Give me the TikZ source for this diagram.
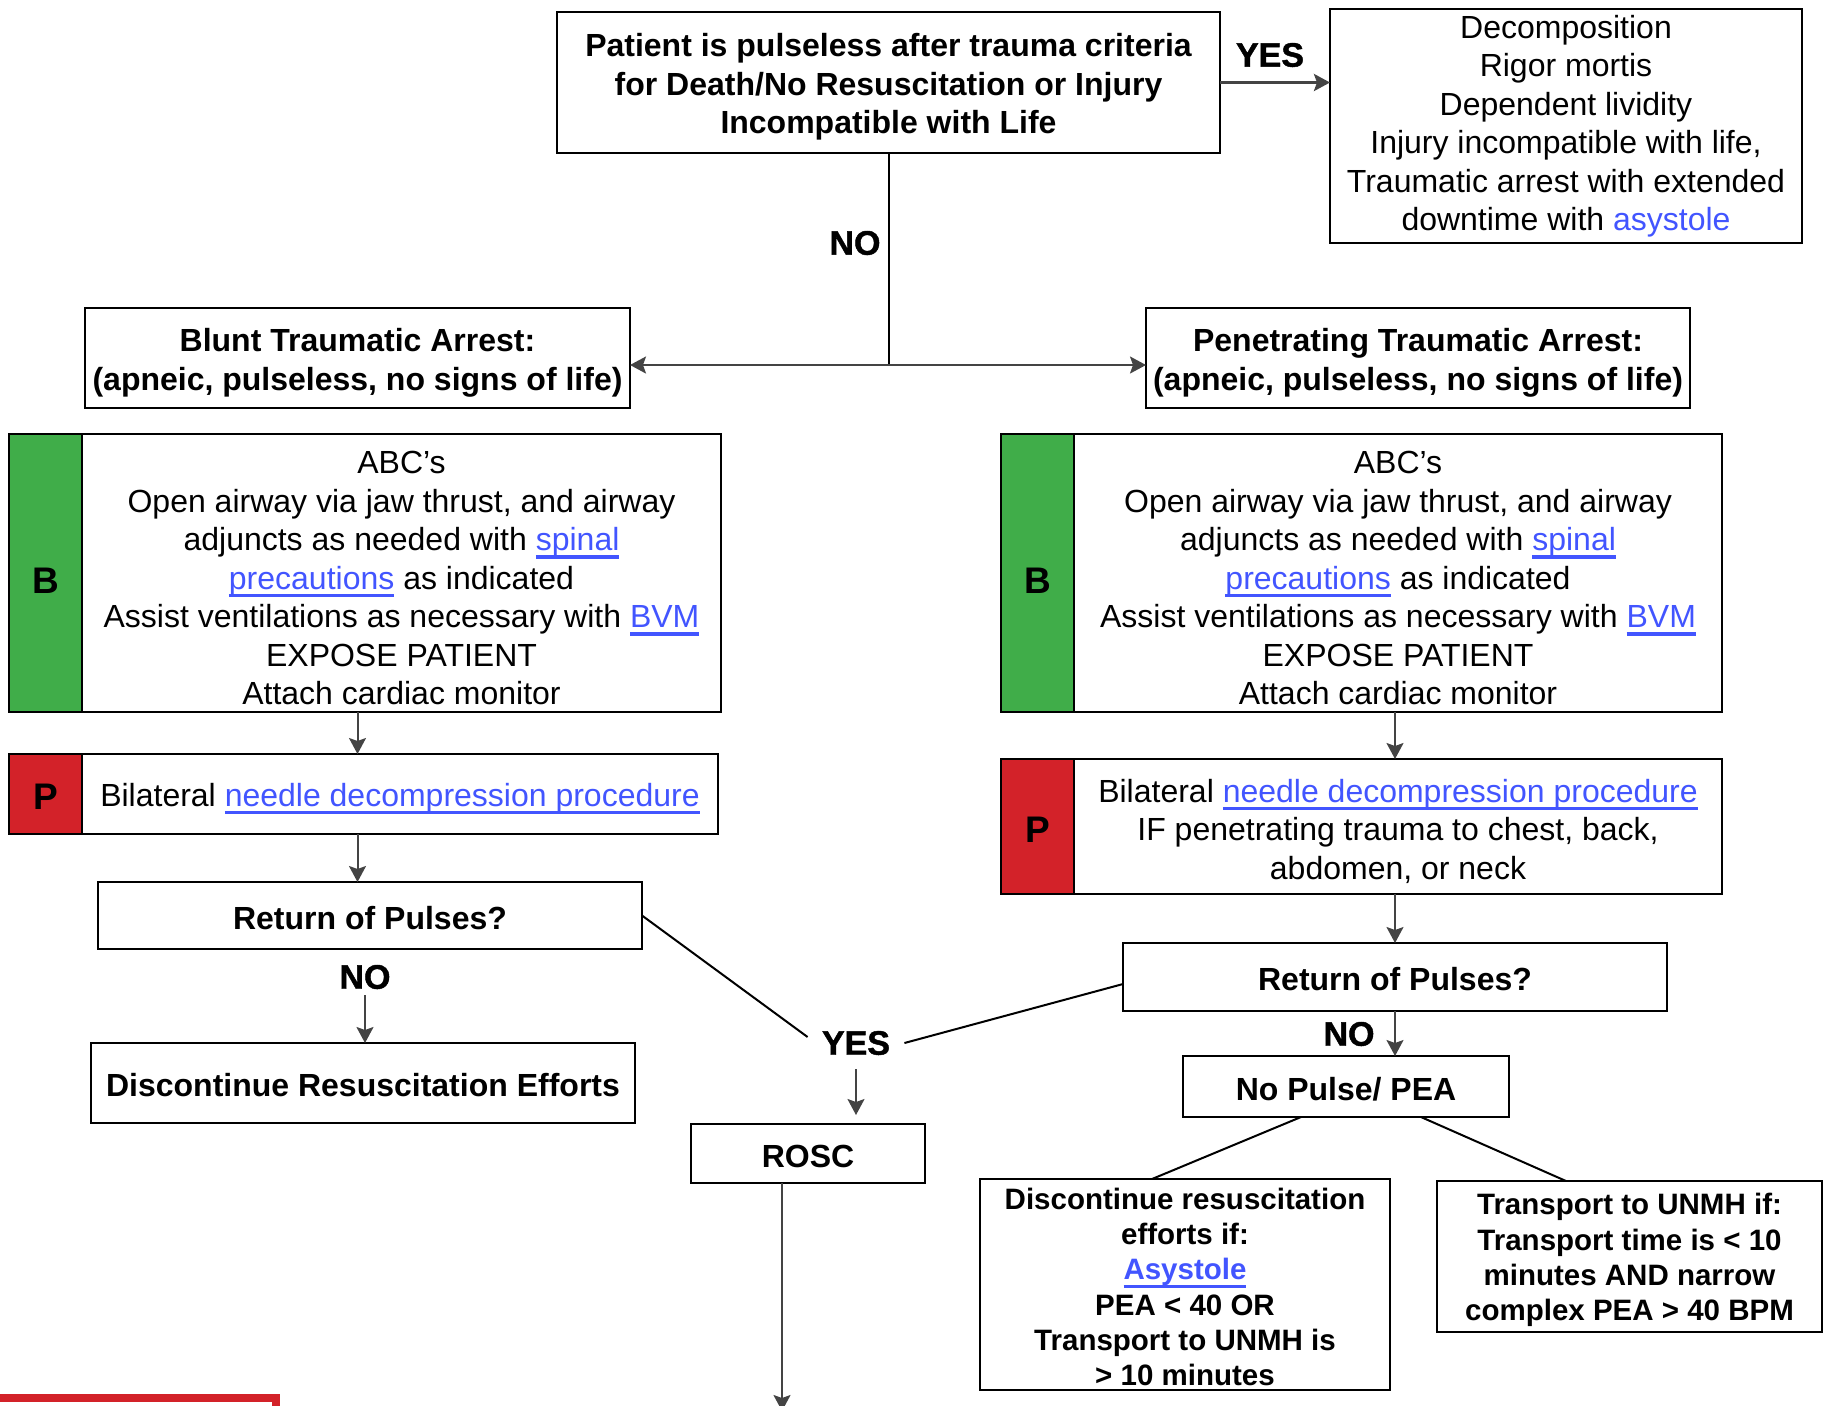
\documentclass[tikz,border=0pt]{standalone}
\usepackage{fontspec}
\setmainfont{Liberation Sans}
\newfontfamily\heavyfont{Liberation Sans Bold}[FakeBold=1.3]
\usetikzlibrary{arrows.meta,positioning}
\definecolor{bgreen}{RGB}{64,173,73}
\definecolor{pred}{RGB}{211,34,41}
\definecolor{linkblue}{RGB}{66,85,255}
\definecolor{arrgray}{RGB}{68,68,68}
\newsavebox{\lnkbox}
\newcommand{\lnk}[1]{\textcolor{linkblue}{\sbox{\lnkbox}{#1}\rlap{\rule[-4pt]{\wd\lnkbox}{1.6pt}}\usebox{\lnkbox}}}

\begin{document}
\begin{tikzpicture}[
  x=0.5pt, y=-0.5pt,
  font=\fontsize{16}{19.25}\selectfont,
  box/.style={draw, line width=1.2pt, outer sep=0pt, inner sep=2pt, align=center},
  low/.style={execute at begin node={\rule{0pt}{#1}}},
  low/.default=14pt,
  hbox/.style={box, low, font=\fontsize{16}{19.25}\selectfont\bfseries},
  tbox/.style={box, low},
  sbox/.style={box, font=\fontsize{14.75}{17.6}\selectfont\bfseries},
  strip/.style={box, font=\fontsize{18.5}{22}\selectfont\bfseries, minimum width=36.5pt},
  lbl/.style={font=\fontsize{17}{20}\selectfont\heavyfont, inner sep=3pt},
  arr/.style={-{Stealth[length=8pt,width=8.5pt,inset=1.5pt]}, draw=arrgray, line width=1pt},
  ln/.style={line width=1pt}
]
\useasboundingbox (0,0) rectangle (1830,1405);

% top of the chart
\node[hbox, low=54.8pt, minimum width=331.5pt, minimum height=70.5pt] (top) at (888.5,82.5) {Patient is pulseless after trauma criteria\\for Death/No Resuscitation or Injury\\Incompatible with Life};
\node[box, minimum width=236pt, minimum height=117pt] (decomp) at (1566,126) {Decomposition\\Rigor mortis\\Dependent lividity\\Injury incompatible with life,\\Traumatic arrest with extended\\downtime with \textcolor{linkblue}{asystole}};
\node[lbl] (yesTop) at (1270,55) {YES};
\node[lbl] (noTop) at (855,243) {NO};
\coordinate (split) at (888.5,365);
\node[hbox, low=36.15pt, minimum width=272.5pt, minimum height=50pt, font=\fontsize{16}{19.85}\selectfont\bfseries] (blunt) at (357.5,358) {Blunt Traumatic Arrest:\\(apneic, pulseless, no signs of life)};
\node[hbox, low=36.15pt, minimum width=272pt, minimum height=50pt, font=\fontsize{16}{19.85}\selectfont\bfseries] (pen) at (1418,358) {Penetrating Traumatic Arrest:\\(apneic, pulseless, no signs of life)};

% blunt branch
\node[strip, low=20.2pt, fill=bgreen, minimum height=139pt] (lBs) at (45.5,573) {B};
\node[tbox, low=131.7pt, right=0pt of lBs, minimum width=319.5pt, minimum height=139pt] (lBt) {ABC’s\\Open airway via jaw thrust, and airway\\adjuncts as needed with \lnk{spinal}\\\lnk{precautions} as indicated\\Assist ventilations as necessary with \lnk{BVM}\\EXPOSE PATIENT\\Attach cardiac monitor};
\node[strip, low=15.6pt, fill=pred, minimum height=40pt] (lPs) at (45.5,794) {P};
\node[tbox, low=16.3pt, right=0pt of lPs, minimum width=318pt, minimum height=40pt] (lPt) {Bilateral \lnk{needle decompression procedure}};
\node[hbox, minimum width=272pt, minimum height=33.5pt] (retL) at (370,915.5) {Return of Pulses?};
\node[lbl] (noL) at (365,977) {NO};
\node[hbox, minimum width=272pt, minimum height=40pt] (discL) at (363,1083) {Discontinue Resuscitation Efforts};

% rosc
\node[lbl, inner sep=7pt] (yes) at (856,1043) {YES};
\node[hbox, minimum width=117pt, minimum height=29.5pt] (rosc) at (808,1153.5) {ROSC};
\coordinate (down) at (782,1411);

% penetrating branch
\node[strip, low=20.2pt, fill=bgreen, minimum height=139pt] (rBs) at (1037.5,573) {B};
\node[tbox, low=131.7pt, right=0pt of rBs, minimum width=324pt, minimum height=139pt] (rBt) {ABC’s\\Open airway via jaw thrust, and airway\\adjuncts as needed with \lnk{spinal}\\\lnk{precautions} as indicated\\Assist ventilations as necessary with \lnk{BVM}\\EXPOSE PATIENT\\Attach cardiac monitor};
\node[strip, low=15.6pt, fill=pred, minimum height=67.5pt] (rPs) at (1037.5,826.5) {P};
\node[tbox, low=54.9pt, right=0pt of rPs, minimum width=324pt, minimum height=67.5pt] (rPt) {Bilateral \lnk{needle decompression procedure}\\IF penetrating trauma to chest, back,\\abdomen, or neck};
\node[hbox, minimum width=272pt, minimum height=34pt] (retR) at (1395,977) {Return of Pulses?};
\node[lbl] (noR) at (1349,1034) {NO};
\node[hbox, minimum width=163pt, minimum height=30.5pt] (nopulse) at (1346,1086.5) {No Pulse/ PEA};
\node[sbox, low=101.1pt, minimum width=205pt, minimum height=105.5pt] (discif) at (1185,1284.5) {Discontinue resuscitation\\efforts if:\\\lnk{Asystole}\\PEA < 40 OR\\Transport to UNMH is\\> 10 minutes};
\node[sbox, low=67.1pt, minimum width=192.5pt, minimum height=75.5pt] (transp) at (1629.5,1256.5) {Transport to UNMH if:\\Transport time is < 10\\minutes AND narrow\\complex PEA > 40 BPM};

% red frame cut by the page edge
\draw[draw=pred, line width=4pt] (-20,1398) rectangle (276,1500);

% connectors
\draw[arr, line width=1.5pt] (top.east) -- (top.east -| decomp.west);
\draw[ln] (top.south) -- (split);
\draw[arr] (split) -- (split -| blunt.east);
\draw[arr] (split) -- (split -| pen.west);
\draw[arr] (blunt.south |- lBt.south) -- (blunt.south |- lPt.north);
\draw[arr] (blunt.south |- lPt.south) -- (blunt.south |- retL.north);
\draw[arr] (noL.south) -- (noL.south |- discL.north);
\draw[ln] (retL.east) -- ([yshift=3pt]yes.west);
\draw[ln] ([yshift=-3.5pt]retR.west) -- (yes.east);
\draw[arr, shorten >=4.5pt] (yes.south) -- (yes.south |- rosc.north);
\draw[arr] ([xshift=-13pt]rosc.south) -- (down);
\draw[arr] (retR.north |- rBt.south) -- (retR.north |- rPt.north);
\draw[arr] (retR.north |- rPt.south) -- (retR.north);
\draw[arr] (retR.south) -- (retR.south |- nopulse.north);
\draw[ln] ([xshift=-22.5pt]nopulse.south) -- ([xshift=-16.5pt]discif.north);
\draw[ln] ([xshift=37.5pt]nopulse.south) -- ([xshift=-31.75pt]transp.north);
\end{tikzpicture}
\end{document}
